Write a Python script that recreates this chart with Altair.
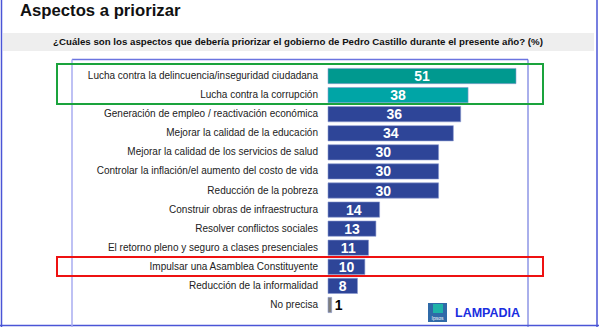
import altair as alt
import pandas as pd

categories = [
    "Lucha contra la delincuencia/inseguridad ciudadana",
    "Lucha contra la corrupción",
    "Generación de empleo / reactivación económica",
    "Mejorar la calidad de la educación",
    "Mejorar la calidad de los servicios de salud",
    "Controlar la inflación/el aumento del costo de vida",
    "Reducción de la pobreza",
    "Construir obras de infraestructura",
    "Resolver conflictos sociales",
    "El retorno pleno y seguro a clases presenciales",
    "Impulsar una Asamblea Constituyente",
    "Reducción de la informalidad",
    "No precisa",
]
values = [51, 38, 36, 34, 30, 30, 30, 14, 13, 11, 10, 8, 1]

palette = ["#00998f", "#00a5a6"] + ["#2e4598"] * 10 + ["#7f7f7f"]

title = "Aspectos a priorizar"
question = "¿Cuáles son los aspectos que debería priorizar el gobierno de Pedro Castillo durante el presente año? (%)"

df = pd.DataFrame({"cat": categories, "val": values})

W, H = 599, 327
FONT = "Liberation Sans"

xs = alt.Scale(domain=[0, 51], range=[328, 516])
ys = alt.Scale(domain=categories, range=[66.5, 314.5], paddingInner=0.2, paddingOuter=0.1)

base = alt.Chart(df)

bars = base.mark_bar(stroke="#8c9bd0", strokeWidth=0.6).encode(
    x=alt.X("val:Q", scale=xs, axis=None),
    x2=alt.datum(0),
    y=alt.Y("cat:N", scale=ys, axis=None, sort=categories),
    color=alt.Color("cat:N", scale=alt.Scale(domain=categories, range=palette), legend=None),
)

labels = base.mark_text(align="right", baseline="middle", font=FONT, fontSize=10, color="#222222").encode(
    x=alt.value(318),
    y=alt.Y("cat:N", scale=ys, axis=None, sort=categories),
    text="cat:N",
)

vals_in = base.transform_filter("datum.val > 1").transform_calculate(mid="datum.val/2").mark_text(
    align="center", baseline="middle", font=FONT, fontSize=14, fontWeight="bold", color="white", dy=1
).encode(
    x=alt.X("mid:Q", scale=xs, axis=None),
    y=alt.Y("cat:N", scale=ys, axis=None, sort=categories),
    text="val:Q",
)

vals_out = base.transform_filter("datum.val <= 1").mark_text(
    align="left", baseline="middle", font=FONT, fontSize=14, fontWeight="bold", color="black", dx=3, dy=1
).encode(
    x=alt.X("val:Q", scale=xs, axis=None),
    y=alt.Y("cat:N", scale=ys, axis=None, sort=categories),
    text="val:Q",
)

one = alt.Chart(pd.DataFrame({"a": [0]}))

band = one.mark_rect(color="#eeeeee").encode(
    x=alt.value(3), x2=alt.value(594), y=alt.value(33), y2=alt.value(51)
)
title_t = one.mark_text(align="left", baseline="alphabetic", font=FONT, fontSize=16.7, fontWeight="bold", color="#111111").encode(
    x=alt.value(20), y=alt.value(15.5), text=alt.value(title)
)
q_t = one.mark_text(align="center", baseline="middle", font=FONT, fontSize=9.7, fontWeight="bold", color="#111111").encode(
    x=alt.value(298), y=alt.value(42), text=alt.value(question)
)

def rule(x1, x2, y1, y2, color, w=1):
    return one.mark_rule(color=color, strokeWidth=w).encode(
        x=alt.value(x1), x2=alt.value(x2), y=alt.value(y1), y2=alt.value(y2)
    )

frame = [
    rule(1.5, 1.5, 0, 327, "#4a55d6", 1.5),
    rule(597, 597, 0, 327, "#4a55d6", 1.5),
    rule(0, 599, 325.5, 325.5, "#4a55d6", 1.5),
    rule(72, 528, 59.5, 59.5, "#6b74e0", 1.5),
    rule(72, 72, 59.5, 327, "#a8adf0", 1.5),
    rule(528, 528, 59.5, 327, "#5560d8", 1),
]

green = one.mark_rect(fill=None, stroke="#1aa33c", strokeWidth=2).encode(
    x=alt.value(57), x2=alt.value(543), y=alt.value(64), y2=alt.value(104)
)
red = one.mark_rect(fill=None, stroke="#ee1111", strokeWidth=2).encode(
    x=alt.value(57), x2=alt.value(543), y=alt.value(257), y2=alt.value(276)
)

logo_box = one.mark_rect(color="#2f6aa8").encode(
    x=alt.value(428), x2=alt.value(447), y=alt.value(303), y2=alt.value(322)
)
logo_inner = one.mark_rect(color="#1fb3a8").encode(
    x=alt.value(433), x2=alt.value(443), y=alt.value(304), y2=alt.value(313)
)
logo_ipsos = one.mark_text(align="center", baseline="middle", font=FONT, fontSize=5, color="white").encode(
    x=alt.value(437.5), y=alt.value(317.5), text=alt.value("Ipsos")
)
lamp = one.mark_text(align="left", baseline="middle", font=FONT, fontSize=12.5, fontWeight="bold", color="#1a2ee0").encode(
    x=alt.value(455), y=alt.value(313), text=alt.value("LAMPADIA")
)

chart = alt.layer(
    band, title_t, q_t, *frame, bars, labels, vals_in, vals_out, green, red,
    logo_box, logo_inner, logo_ipsos, lamp
).properties(
    width=W, height=H, autosize=alt.AutoSizeParams(type="none"), padding=0, background="white"
).configure_view(stroke=None)

chart.save("out.html", embed_options={"renderer": "svg", "actions": False})
